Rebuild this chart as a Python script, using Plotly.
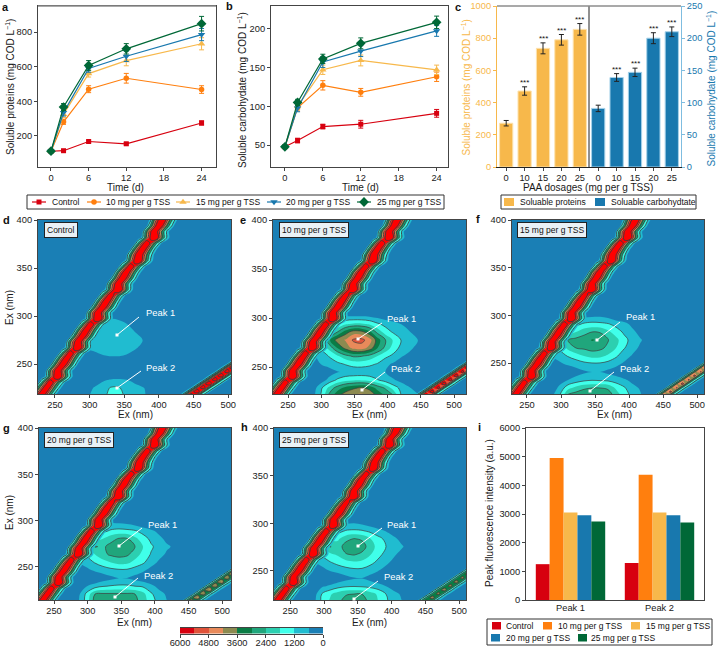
import numpy as np
import plotly.graph_objects as go

W, H = 720, 650
FONT = "Liberation Sans"

TIME = [0, 2, 6, 12, 24]
SERIES = ["Control", "10 mg per g TSS", "15 mg per g TSS", "20 mg per g TSS", "25 mg per g TSS"]
SERIES_COLORS = ["#d7000f", "#ff7f0e", "#f7b84b", "#1878ae", "#006837"]
SERIES_SYMBOLS = ["square", "circle", "triangle-up", "triangle-down", "diamond"]
SERIES_SIZES = [5, 5.5, 6.5, 6.5, 7.5]

PROTEIN = [
    [112, 115, 168, 155, 275],
    [112, 282, 470, 533, 468],
    [112, 325, 560, 635, 732],
    [112, 335, 590, 660, 785],
    [112, 367, 607, 703, 848],
]
PROTEIN_ERR = [
    [5, 6, 8, 7, 12],
    [5, 15, 20, 28, 22],
    [5, 18, 20, 30, 35],
    [5, 20, 22, 30, 35],
    [5, 20, 28, 30, 42],
]
CARB = [
    [48, 56, 74, 77, 91],
    [48, 98, 127, 118, 138],
    [48, 100, 147, 159, 147],
    [48, 98, 157, 171, 197],
    [48, 105, 161, 181, 208],
]
CARB_ERR = [
    [2, 3, 3, 5, 5],
    [2, 4, 6, 5, 6],
    [2, 4, 6, 7, 6],
    [2, 5, 7, 7, 7],
    [2, 4, 6, 7, 8],
]

DOSAGES = ["0", "10", "15", "20", "25"]
BAR_PROTEIN = [272, 472, 737, 790, 855]
BAR_PROTEIN_ERR = [17, 26, 34, 33, 36]
BAR_CARB = [91, 139, 147, 200, 210]
BAR_CARB_ERR = [5, 6, 6.5, 8.5, 7.5]
BAR_STARS = ["", "***", "***", "***", "***"]

PEAKS = ["Peak 1", "Peak 2"]
PEAK_VALUES = [
    [1250, 1290],
    [4950, 4370],
    [3050, 3050],
    [2960, 2960],
    [2740, 2700],
]

PANEL_TAGS = ["Control", "10 mg per g TSS", "15 mg per g TSS", "20 mg per g TSS", "25 mg per g TSS"]

# EEM levels, colours from high to low as on the colour bar
LEVELS = [5700, 5100, 4500, 3900, 3300, 2700, 2100, 1500, 900, 300]
LEVEL_COLORS = ["#d7000f", "#e0533a", "#e88a5a", "#8c8a50", "#0a7c45",
                "#20a67c", "#2ccfb0", "#40ffea", "#20bcd0", "#1a7fb5"]

# EEM peak zone, rows top to bottom, 16 columns left to right (panels d-h)
PEAK_D = [
    [0, 0, 0, 0, 0, 0, 0, 0, 0, 0, 0, 0, 0, 0, 0, 0],
    [0, 0, 0, 0, 100, 450, 400, 100, 0, 0, 0, 0, 0, 0, 0, 0],
    [0, 0, 0, 200, 650, 850, 800, 620, 200, 0, 0, 0, 0, 0, 0, 0],
    [0, 0, 0, 400, 750, 850, 850, 780, 620, 250, 0, 0, 0, 0, 0, 0],
    [0, 0, 350, 700, 780, 900, 900, 850, 800, 620, 100, 0, 0, 0, 0, 0],
    [0, 0, 650, 800, 850, 900, 880, 800, 700, 400, 0, 0, 0, 0, 0, 0],
    [0, 0, 100, 350, 550, 620, 620, 550, 300, 0, 0, 0, 0, 0, 0, 0],
    [0, 0, 0, 0, 0, 0, 0, 0, 0, 0, 0, 0, 0, 0, 0, 0],
    [0, 0, 0, 0, 0, 0, 0, 0, 0, 0, 0, 0, 0, 0, 0, 0],
    [0, 0, 0, 200, 520, 650, 680, 620, 450, 100, 0, 0, 0, 0, 0, 0],
    [0, 0, 300, 650, 850, 1250, 1300, 900, 800, 680, 300, 0, 0, 0, 0, 0],
    [0, 0, 500, 750, 900, 1500, 1700, 950, 850, 750, 350, 0, 0, 0, 0, 0],
]
PEAK_E = [
    [0, 0, 0, 0, 0, 0, 0, 0, 0, 0, 0, 0, 0, 0, 0, 0],
    [0, 0, 0, 200, 400, 550, 560, 550, 500, 350, 200, 100, 0, 0, 0, 0],
    [0, 0, 300, 800, 1200, 1700, 1900, 1900, 1700, 1300, 1000, 800, 580, 300, 100, 0],
    [0, 0, 800, 1500, 2400, 3300, 3900, 3800, 3200, 2200, 1500, 1100, 900, 630, 300, 0],
    [0, 1000, 1700, 2900, 3900, 4250, 4900, 5000, 4500, 3300, 2400, 1700, 1150, 800, 630, 200],
    [0, 800, 1300, 2000, 3000, 3800, 4400, 4500, 4000, 3000, 2200, 1500, 1000, 750, 400, 100],
    [0, 500, 850, 1250, 1700, 2200, 2500, 2450, 2200, 1800, 1350, 1050, 650, 400, 100, 0],
    [0, 100, 650, 850, 1050, 1250, 1450, 1450, 1350, 1150, 750, 500, 200, 0, 0, 0],
    [0, 0, 0, 300, 550, 700, 750, 800, 750, 700, 600, 300, 100, 0, 0, 0],
    [0, 0, 300, 800, 1300, 1600, 1700, 1700, 1600, 1250, 900, 650, 400, 150, 0, 0],
    [0, 300, 1100, 2000, 2700, 3200, 3500, 3700, 3400, 2800, 2300, 1500, 1000, 650, 300, 100],
    [0, 400, 1300, 2600, 3500, 4000, 4300, 4400, 4200, 3500, 3000, 2500, 1150, 950, 700, 300],
]
PEAK_F = [
    [0, 0, 0, 0, 0, 0, 0, 0, 0, 0, 0, 0, 0, 0, 0, 0],
    [0, 0, 0, 0, 100, 400, 500, 520, 400, 100, 0, 0, 0, 0, 0, 0],
    [0, 0, 0, 500, 1000, 1300, 1400, 1350, 1250, 1000, 800, 450, 100, 0, 0, 0],
    [0, 0, 800, 1400, 1800, 2200, 2400, 2350, 1950, 1500, 1100, 780, 400, 100, 0, 0],
    [0, 1000, 1900, 2450, 2600, 2700, 3050, 2900, 2450, 2000, 1400, 1000, 680, 350, 0, 0],
    [0, 800, 1350, 1950, 2400, 2500, 2650, 2550, 2250, 1800, 1250, 850, 500, 150, 0, 0],
    [0, 600, 850, 1250, 1500, 1800, 2000, 1950, 1700, 1300, 850, 550, 150, 0, 0, 0],
    [0, 0, 500, 700, 850, 1000, 1080, 1080, 950, 750, 500, 100, 0, 0, 0, 0],
    [0, 0, 0, 100, 300, 500, 600, 600, 450, 300, 100, 0, 0, 0, 0, 0],
    [0, 0, 300, 600, 850, 1050, 1150, 1100, 1050, 900, 700, 450, 100, 0, 0, 0],
    [0, 200, 800, 1600, 2000, 2300, 2400, 2400, 2300, 1700, 1300, 800, 550, 150, 0, 0],
    [0, 500, 1300, 2600, 2800, 2900, 2950, 2950, 2800, 2200, 1600, 1050, 700, 250, 0, 0],
]
PEAK_G = [
    [0, 0, 0, 0, 0, 0, 0, 0, 0, 0, 0, 0, 0, 0, 0, 0],
    [0, 0, 0, 0, 250, 580, 550, 480, 300, 100, 0, 0, 0, 0, 0, 0],
    [0, 0, 0, 500, 1000, 1300, 1400, 1350, 1250, 950, 700, 450, 100, 0, 0, 0],
    [0, 200, 800, 1400, 1800, 2200, 2450, 2450, 1950, 1500, 1050, 750, 450, 100, 0, 0],
    [0, 1000, 1600, 2450, 2300, 2600, 2800, 2750, 2400, 1800, 1300, 950, 680, 500, 100, 0],
    [0, 800, 1300, 1800, 2250, 2500, 2600, 2500, 2100, 1600, 1150, 800, 500, 200, 0, 0],
    [0, 600, 850, 1250, 1550, 1800, 2000, 1950, 1600, 1300, 850, 500, 150, 0, 0, 0],
    [0, 0, 450, 700, 850, 1000, 1080, 1080, 900, 700, 400, 0, 0, 0, 0, 0],
    [0, 0, 0, 0, 250, 450, 600, 580, 400, 200, 0, 0, 0, 0, 0, 0],
    [0, 0, 600, 900, 1150, 1250, 1300, 1300, 1200, 1100, 800, 400, 100, 0, 0, 0],
    [0, 500, 1400, 2400, 2500, 2500, 2500, 2500, 2400, 2000, 1300, 850, 500, 100, 0, 0],
    [0, 600, 1500, 2700, 2900, 2900, 2900, 2800, 2600, 2100, 1500, 1000, 600, 200, 0, 0],
]
PEAK_H = [
    [0, 0, 0, 0, 0, 0, 0, 0, 0, 0, 0, 0, 0, 0, 0, 0],
    [0, 0, 0, 0, 100, 480, 570, 450, 200, 0, 0, 0, 0, 0, 0, 0],
    [0, 0, 0, 400, 950, 1250, 1300, 1250, 1050, 800, 550, 200, 0, 0, 0, 0],
    [0, 0, 700, 1350, 1700, 2200, 2420, 2300, 1850, 1400, 1050, 750, 350, 0, 0, 0],
    [0, 900, 1600, 2450, 2100, 2700, 2900, 2700, 2100, 1600, 1200, 850, 680, 250, 0, 0],
    [0, 800, 1300, 1650, 1900, 2350, 2450, 2250, 1850, 1400, 1000, 700, 350, 0, 0, 0],
    [0, 550, 800, 1150, 1400, 1600, 1700, 1650, 1400, 1050, 750, 400, 0, 0, 0, 0],
    [0, 0, 400, 650, 800, 950, 1050, 1050, 850, 650, 350, 0, 0, 0, 0, 0],
    [0, 0, 0, 0, 200, 400, 550, 580, 400, 150, 0, 0, 0, 0, 0, 0],
    [0, 0, 500, 700, 950, 1100, 1150, 1100, 1000, 850, 600, 300, 0, 0, 0, 0],
    [0, 300, 1250, 1700, 2100, 2350, 2400, 2400, 2100, 1700, 1200, 800, 500, 100, 0, 0],
    [0, 400, 1350, 1900, 2300, 2650, 2700, 2650, 2300, 1800, 1300, 900, 600, 150, 0, 0],
]
PEAK_GRIDS = [PEAK_D, PEAK_E, PEAK_F, PEAK_G, PEAK_H]

# scatter ridge: column of the crest for each row, then eight readings across it
BAND_CREST = [36, 35, 34, 33, 33, 31, 30, 29, 29, 27, 26, 25, 24, 24, 22, 21, 20,
              19, 19, 17, 16, 15, 14, 14, 12, 11, 10, 9, 9, 7, 6, 5, 4]
BAND_ROWS = [
    [400, 3000, 5500, 8000, 5700, 3200, 1300, 300],
    [900, 3800, 6200, 8500, 5400, 3000, 1200, 200],
    [300, 2600, 5200, 8000, 6000, 3500, 1500, 400],
    [600, 3300, 5800, 8200, 5300, 2900, 1100, 200],
    [900, 3900, 6300, 8800, 5800, 3100, 1200, 300],
    [300, 2700, 5300, 7800, 5600, 3300, 1400, 300],
    [500, 3100, 5600, 8100, 5700, 3100, 1200, 200],
    [400, 2900, 5400, 8000, 6100, 3600, 1500, 400],
    [1000, 4000, 6400, 8800, 5500, 2900, 1100, 200],
    [300, 2500, 5100, 7800, 5600, 3300, 1400, 300],
    [600, 3400, 5800, 8300, 5400, 3000, 1200, 200],
    [400, 2800, 5500, 8000, 6000, 3500, 1500, 300],
    [500, 3200, 5700, 8100, 5600, 3100, 1300, 300],
    [1100, 4100, 6500, 9000, 5900, 3100, 1200, 200],
    [300, 2600, 5200, 7800, 5600, 3200, 1300, 300],
    [500, 3100, 5600, 8000, 5800, 3300, 1300, 300],
    [400, 2900, 5400, 8000, 6100, 3600, 1600, 400],
    [600, 3400, 5900, 8300, 5300, 2900, 1100, 200],
    [900, 3900, 6300, 8700, 5700, 3100, 1200, 200],
    [300, 2600, 5200, 7900, 5600, 3300, 1400, 300],
    [500, 3100, 5500, 8000, 5600, 3100, 1300, 300],
    [400, 2800, 5400, 8000, 5900, 3500, 1500, 300],
    [600, 3300, 5700, 8200, 5400, 3000, 1200, 200],
    [1000, 4000, 6400, 8800, 5600, 3000, 1200, 200],
    [300, 2600, 5100, 7800, 5500, 3200, 1400, 300],
    [500, 3000, 5500, 8000, 5700, 3200, 1300, 300],
    [400, 2900, 5400, 8000, 5900, 3600, 1500, 300],
    [600, 3300, 5800, 8200, 5300, 2900, 1100, 200],
    [900, 3800, 6200, 8600, 5600, 3000, 1200, 200],
    [300, 2500, 5100, 7800, 5500, 3200, 1400, 300],
    [400, 2900, 5400, 8000, 5700, 3100, 1300, 300],
    [500, 3100, 5600, 8100, 5600, 3000, 1200, 200],
    [400, 3000, 5500, 8000, 5700, 3200, 1300, 300],
]

# second-order scatter streak in the lower right corner
STREAK = [
    [0, 0, 0, 0, 0, 0, 0, 0, 0, 0, 0, 0, 900],
    [0, 0, 0, 0, 0, 0, 0, 0, 0, 0, 0, 800, 5500],
    [0, 0, 0, 0, 0, 0, 0, 0, 0, 0, 900, 5600, 7100],
    [0, 0, 0, 0, 0, 0, 0, 0, 0, 800, 5400, 6900, 2200],
    [0, 0, 0, 0, 0, 0, 0, 0, 900, 5600, 7200, 2300, 500],
    [0, 0, 0, 0, 0, 0, 0, 800, 5400, 6800, 2200, 500, 0],
    [0, 0, 0, 0, 0, 0, 900, 5500, 7100, 2300, 500, 0, 0],
    [0, 0, 0, 0, 0, 800, 5400, 6900, 2200, 500, 0, 0, 0],
    [0, 0, 0, 0, 900, 5600, 7200, 2300, 500, 0, 0, 0, 0],
    [0, 0, 0, 800, 5400, 6800, 2200, 500, 0, 0, 0, 0, 0],
    [0, 0, 900, 5500, 7100, 2300, 500, 0, 0, 0, 0, 0, 0],
    [0, 800, 5400, 6900, 2200, 500, 0, 0, 0, 0, 0, 0, 0],
    [900, 5500, 7000, 2300, 500, 0, 0, 0, 0, 0, 0, 0, 0],
]
STREAK_LEVEL = [1.0, 0.95, 0.72, 0.62, 0.58]


def fx(px):
    return px / W


def fy(py):
    return 1 - py / H


def band_colorscale(colors):
    # low to high, one flat step per band
    scale = []
    for i, c in enumerate(colors):
        scale += [[i / 10, c], [(i + 1) / 10, c]]
    return scale


low_to_high = LEVEL_COLORS[::-1]
fill_scale = band_colorscale(["rgba(0,0,0,0)"] + low_to_high[1:9] + ["#ff0000"])

axis_style = dict(showline=True, mirror=True, linecolor="#444444", linewidth=1, ticks="outside",
                  ticklen=3, tickwidth=1, tickcolor="#444444", showgrid=False, zeroline=False,
                  automargin=False, tickfont=dict(size=9.3, color="#1a1a1a"))

fig = go.Figure()
layout = {}
shapes = []
annotations = []


def set_axes(idx_x, idx_y, rect, xrange, yrange, xopts, yopts):
    l, t, r, b = rect
    sx = "xaxis" if idx_x == 1 else f"xaxis{idx_x}"
    sy = "yaxis" if idx_y == 1 else f"yaxis{idx_y}"
    ax = {**axis_style, "domain": [fx(l), fx(r)], "range": xrange, "ticklabelstandoff": -1,
          "anchor": "y" if idx_y == 1 else f"y{idx_y}"}
    ay = {**axis_style, "domain": [fy(b), fy(t)], "range": yrange,
          "anchor": "x" if idx_x == 1 else f"x{idx_x}"}
    ax.update(xopts)
    ay.update(yopts)
    layout[sx] = ax
    layout[sy] = ay


def letter(text, x, y):
    annotations.append(dict(text=f"<b>{text}</b>", x=fx(x), y=fy(y), xref="paper", yref="paper",
                            xanchor="center", yanchor="middle", showarrow=False,
                            font=dict(size=11, color="#111111")))


def axis_title(text, x, y, angle=0, color="#1a1a1a"):
    # plotly puts axis titles too far out without automargin, so they are placed by hand
    annotations.append(dict(text=text, x=fx(x), y=fy(y), xref="paper", yref="paper", textangle=angle,
                            xanchor="center", yanchor="middle", showarrow=False,
                            font=dict(size=10, color=color)))


def line_panel(values, errs, xa, ya):
    for i, name in enumerate(SERIES):
        fig.add_trace(go.Scatter(
            x=TIME, y=values[i], mode="lines+markers", name=name, showlegend=False,
            xaxis=xa, yaxis=ya,
            line=dict(color=SERIES_COLORS[i], width=1.2),
            marker=dict(color=SERIES_COLORS[i], symbol=SERIES_SYMBOLS[i], size=SERIES_SIZES[i], line=dict(width=0)),
            error_y=dict(type="data", array=errs[i], color=SERIES_COLORS[i], thickness=1, width=2.5),
        ))


# panels a and b
line_panel(PROTEIN, PROTEIN_ERR, "x", "y")
line_panel(CARB, CARB_ERR, "x2", "y2")
time_ticks = [0, 6, 12, 18, 24]
set_axes(1, 1, (38, 6, 216, 167), [-2.07, 26.3], [21, 950],
         dict(tickvals=time_ticks), dict(tickvals=[200, 400, 600, 800]))
set_axes(2, 2, (271, 6, 448, 167), [-2.2, 25.8], [22, 229],
         dict(tickvals=time_ticks), dict(tickvals=[50, 100, 150, 200]))
axis_title("Time (d)", 126, 187.5)
axis_title("Time (d)", 360, 187.5)
axis_title("Soluble proteins (mg COD L<sup>−1</sup>)", 10, 87, -90)
axis_title("Soluble carbohydate (mg COD L<sup>−1</sup>)", 242, 90, -90)

# panel c
left_idx = list(range(5))
right_idx = list(range(5, 10))
fig.add_trace(go.Bar(x=left_idx, y=BAR_PROTEIN, name="Soluable proteins", showlegend=False, width=0.72,
                     marker=dict(color="#f7b84b", line=dict(color="#fde3b0", width=1)), xaxis="x3", yaxis="y3",
                     error_y=dict(type="data", array=BAR_PROTEIN_ERR, color="#222222", thickness=1, width=2.5)))
fig.add_trace(go.Bar(x=right_idx, y=BAR_CARB, name="Soluable carbohydtate", showlegend=False, width=0.72,
                     marker=dict(color="#1878ae", line=dict(color="#a6d2ea", width=1)), xaxis="x3", yaxis="y4",
                     error_y=dict(type="data", array=BAR_CARB_ERR, color="#222222", thickness=1, width=2.5)))
set_axes(3, 3, (497, 6, 681, 167), [-0.5, 9.5], [0, 1000],
         dict(tickvals=left_idx + right_idx, ticktext=DOSAGES + DOSAGES, mirror=False, linecolor="#222222"),
         dict(tickvals=[0, 200, 400, 600, 800, 1000], mirror=False, linecolor="#f7b84b", tickcolor="#f7b84b",
              tickfont=dict(size=9.3, color="#f7b84b")))
layout["yaxis4"] = {**axis_style, "domain": [fy(167), fy(6)], "range": [0, 250], "anchor": "x3", "overlaying": "y3",
                    "side": "right", "mirror": False, "linecolor": "#7fbde0", "tickcolor": "#7fbde0",
                    "tickvals": [0, 50, 100, 150, 200, 250], "tickfont": dict(size=9.3, color="#1878ae")}
axis_title("PAA dosages (mg per g TSS)", 588, 187.5)
axis_title("Soluble proteins (mg COD L<sup>−1</sup>)", 466, 87.5, -90, "#f7b84b")
axis_title("Soluble carbohydate (mg COD L<sup>−1</sup>)", 710, 88.5, -90, "#1878ae")
for i in range(5):
    if BAR_STARS[i]:
        annotations.append(dict(text=BAR_STARS[i], x=left_idx[i], y=BAR_PROTEIN[i] + BAR_PROTEIN_ERR[i],
                                xref="x3", yref="y3", showarrow=False, yanchor="bottom", yshift=-2,
                                font=dict(size=8, color="#111111")))
        annotations.append(dict(text=BAR_STARS[i], x=right_idx[i], y=BAR_CARB[i] + BAR_CARB_ERR[i],
                                xref="x3", yref="y4", showarrow=False, yanchor="bottom", yshift=-2,
                                font=dict(size=8, color="#111111")))
shapes.append(dict(type="line", xref="x3", yref="paper", x0=4.5, x1=4.5, y0=fy(167), y1=fy(6),
                   line=dict(color="#222222", width=1)))
# grey top edge on a and c
for l, r in [(38, 216), (497, 681)]:
    shapes.append(dict(type="line", xref="paper", yref="paper", x0=fx(l), x1=fx(r), y0=fy(6), y1=fy(6),
                       line=dict(color="#8c8c8c", width=1.6)))

# panels d to h
PANEL_RECTS = [(38, 220, 231, 394), (273, 220, 466, 394), (512, 220, 704, 394),
               (39, 428, 231, 600), (274, 428, 466, 600)]
PANEL_XR = [[225.5, 504], [227.4, 518], [228, 510], [227.7, 513], [226, 510]]
PANEL_YR = [[219, 400], [222.5, 400], [217.5, 400], [214, 400], [219.5, 400]]
PANEL_TAG_XY = [(44, 230), (279, 230), (517, 230), (44, 440), (279, 440)]
PANEL_XTITLE = [(135, 415), (370, 415), (614, 415), (134, 622), (370, 622)]
# dot x, dot y, arrow tail x, tail y, label x, label y
PANEL_ARROWS = [
    [(117, 335, 139, 317, 144, 313), (117, 388, 141, 371, 144, 367)],
    [(358, 339, 382, 323, 385, 318), (362, 390, 385, 372, 389, 368)],
    [(597, 340, 620, 322, 624, 317), (590, 391, 614, 372, 618, 368)],
    [(119, 546, 142, 528, 146, 524), (115, 597, 138, 578, 142, 575)],
    [(358, 546, 382, 528, 385, 524), (354, 599, 378, 581, 382, 576)],
]

peak_fx = (np.arange(16) * 8 + 32) / 192
peak_fy = (np.arange(12) * 8 + 88) / 174
band_fx = (np.arange(51) * 4 - 16) / 192
band_fy = (np.arange(33) - 1) * 5.8 / 174
streak_fx = (np.arange(13) * 6 + 135) / 192
streak_fy = (np.arange(13) * 4 + 132) / 174

band_z = np.zeros((33, 51))
for r, (crest, vals) in enumerate(zip(BAND_CREST, BAND_ROWS)):
    band_z[r, crest - 3:crest + 5] = vals

contour_levels = dict(zauto=False, zmin=0, zmax=6000, autocontour=False, showscale=False, hoverinfo="skip")

for p in range(5):
    xa, ya = f"x{p + 4}", f"y{p + 5}"
    xr, yr, rect = PANEL_XR[p], PANEL_YR[p], PANEL_RECTS[p]
    to_nm_x = lambda f: xr[0] + f * (xr[1] - xr[0])
    to_nm_y = lambda f: 400 - f * (400 - yr[0])
    grids = [
        (to_nm_x(peak_fx), to_nm_y(peak_fy), PEAK_GRIDS[p], 0.7),
        (to_nm_x(streak_fx), to_nm_y(streak_fy), np.array(STREAK) * STREAK_LEVEL[p], 0.9),
        (to_nm_x(band_fx), to_nm_y(band_fy), band_z, 0.9),
    ]
    for gx, gy, gz, lw in grids:
        fig.add_trace(go.Contour(x=gx, y=gy, z=gz, xaxis=xa, yaxis=ya, colorscale=fill_scale,
                                 contours=dict(start=0, end=6000, size=600, coloring="fill"),
                                 line=dict(width=0), **contour_levels))
        fig.add_trace(go.Contour(x=gx, y=gy, z=gz, xaxis=xa, yaxis=ya, colorscale=fill_scale,
                                 contours=dict(start=1200, end=6000, size=1200, coloring="none"),
                                 line=dict(color="#3c3c3c", width=lw), **contour_levels))
    set_axes(p + 4, p + 5, rect, xr, yr, dict(tickvals=[250, 300, 350, 400, 450, 500]),
             dict(tickvals=[250, 300, 350, 400]))
    axis_title("Ex (nm)", PANEL_XTITLE[p][0], PANEL_XTITLE[p][1])
    shapes.append(dict(type="rect", xref="paper", yref="paper", layer="below", line=dict(width=0),
                       x0=fx(rect[0]), x1=fx(rect[2]), y0=fy(rect[3]), y1=fy(rect[1]), fillcolor=LEVEL_COLORS[-1]))
    annotations.append(dict(text=PANEL_TAGS[p], x=fx(PANEL_TAG_XY[p][0]), y=fy(PANEL_TAG_XY[p][1]),
                            xref="paper", yref="paper", xanchor="left", yanchor="middle", showarrow=False,
                            bgcolor="#e9f1f6", bordercolor="#222222", borderwidth=1, borderpad=2,
                            font=dict(size=8.5, color="#111111")))
    for k, (dx, dy, tx, ty, lx, ly) in enumerate(PANEL_ARROWS[p]):
        shapes.append(dict(type="line", xref="paper", yref="paper", x0=fx(tx), y0=fy(ty), x1=fx(dx), y1=fy(dy),
                           line=dict(color="white", width=1)))
        shapes.append(dict(type="rect", xref="paper", yref="paper", x0=fx(dx - 1.5), x1=fx(dx + 1.5),
                           y0=fy(dy + 1.5), y1=fy(dy - 1.5), fillcolor="white", line=dict(width=0)))
        annotations.append(dict(text=PEAKS[k], x=fx(lx), y=fy(ly), xref="paper", yref="paper", xanchor="left",
                                yanchor="middle", showarrow=False, font=dict(size=9.4, color="white")))
axis_title("Ex (nm)", 9, 308, -90)
axis_title("Ex (nm)", 9, 513, -90)

# panel i
for i, name in enumerate(SERIES):
    fig.add_trace(go.Bar(x=PEAKS, y=PEAK_VALUES[i], name=name, showlegend=False, xaxis="x9", yaxis="y10",
                         marker=dict(color=SERIES_COLORS[i], line=dict(width=0))))
set_axes(9, 10, (526, 428, 704, 600), [-0.5, 1.5], [0, 6000],
         dict(type="category", ticks=""),
         dict(tickvals=[0, 1000, 2000, 3000, 4000, 5000, 6000]))
axis_title("Peak fluorescence intensity (a.u.)", 489, 513, -90)

# colour bar
fig.add_trace(go.Heatmap(x=LEVELS, y=[0], z=[LEVELS], xaxis="x10", yaxis="y11", zmin=0, zmax=6000,
                         colorscale=band_colorscale(low_to_high), showscale=False, hoverinfo="skip"))
set_axes(10, 11, (180, 628, 323, 633.5), [6000, 0], [-0.5, 0.5],
         dict(tickvals=[6000, 4800, 3600, 2400, 1200, 0], ticklabelstandoff=-3),
         dict(visible=False))

# hand-set legend boxes, the keys are narrower than plotly's own legend allows
layout["xaxis11"] = dict(domain=[0, 1], range=[0, W], visible=False, anchor="y12", fixedrange=True, automargin=False)
layout["yaxis12"] = dict(domain=[0, 1], range=[H, 0], visible=False, anchor="x11", fixedrange=True, automargin=False)


def legend_text(text, x, y):
    annotations.append(dict(text=text, x=fx(x), y=fy(y), xref="paper", yref="paper", xanchor="left",
                            yanchor="middle", showarrow=False, font=dict(size=8.5, color="#111111")))


def legend_box(l, t, r, b):
    shapes.append(dict(type="rect", xref="paper", yref="paper", x0=fx(l), x1=fx(r), y0=fy(b), y1=fy(t),
                       line=dict(color="#333333", width=1)))


def swatch(l, t, r, b, color):
    shapes.append(dict(type="rect", xref="paper", yref="paper", x0=fx(l), x1=fx(r), y0=fy(b), y1=fy(t),
                       fillcolor=color, line=dict(width=0)))


legend_box(27, 195, 444, 209)
LINE_KEY_X = [39, 94, 183, 274, 364]
LINE_TEXT_X = [50, 104, 194, 284, 375]
for i, name in enumerate(SERIES):
    fig.add_trace(go.Scatter(x=[LINE_KEY_X[i] - 7, LINE_KEY_X[i], LINE_KEY_X[i] + 7], y=[202, 202, 202],
                             mode="lines", showlegend=False, xaxis="x11", yaxis="y12", hoverinfo="skip",
                             line=dict(color=SERIES_COLORS[i], width=1.2)))
    fig.add_trace(go.Scatter(x=[LINE_KEY_X[i]], y=[202], mode="markers", showlegend=False, xaxis="x11", yaxis="y12",
                             hoverinfo="skip", marker=dict(color=SERIES_COLORS[i], symbol=SERIES_SYMBOLS[i],
                                                           size=SERIES_SIZES[i], line=dict(width=0))))
    legend_text(name, LINE_TEXT_X[i], 202)

legend_box(501, 195, 696, 209)
swatch(504, 198, 514, 206, "#f7b84b")
legend_text("Soluable proteins", 518, 202)
swatch(595, 198, 605, 206, "#1878ae")
legend_text("Soluable carbohydtate", 609, 202)

legend_box(487, 619, 712, 645)
BAR_KEYS = [(492, 626, 504), (543, 626, 556), (631, 626, 644), (491, 638, 504), (578, 638, 589)]
for i, (kx, ky, tx) in enumerate(BAR_KEYS):
    swatch(kx, ky - 4, kx + 9, ky + 3.5, SERIES_COLORS[i])
    legend_text(SERIES[i], tx, ky)

for name, x, y in [("a", 5, 7), ("b", 230, 6), ("c", 458, 7), ("d", 6, 220), ("e", 243, 220),
                   ("f", 478, 219), ("g", 6, 428), ("h", 244, 427), ("i", 479, 427)]:
    letter(name, x, y)

fig.update_layout(
    width=W, height=H, autosize=False, margin=dict(l=0, r=0, t=0, b=0),
    paper_bgcolor="white", plot_bgcolor="rgba(0,0,0,0)",
    font=dict(family=FONT, size=9, color="#1a1a1a"),
    barmode="group", bargap=0.22, bargroupgap=0, showlegend=False,
    shapes=shapes, annotations=annotations, **layout,
)

fig.write_html("out.html", config=dict(displayModeBar=False),
               post_script="document.body.style.margin='0px';")
